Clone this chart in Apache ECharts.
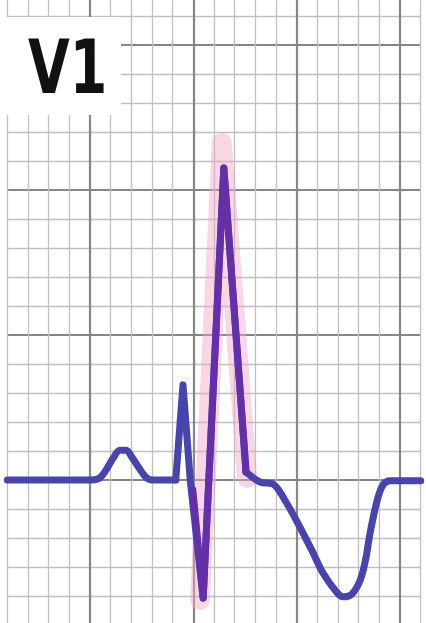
<!DOCTYPE html>
<html>
<head>
<meta charset="utf-8">
<script src="https://cdn.jsdelivr.net/npm/echarts@6/dist/echarts.min.js"></script>
<style>
html,body{margin:0;padding:0;background:#fff;overflow:hidden;}
#chart{position:absolute;left:0;top:-13px;width:426px;height:640px;}
</style>
</head>
<body>
<div id="chart"></div>
<script>
// Lead label
const leadLabel = 'V1';
// ECG trace, time (ms) and amplitude (µV), split in three segments
// baseline + P wave
const pWaveT = [0, 164, 179, 191, 205, 218, 230, 241, 255, 268, 280, 326];
const pWaveV = [0, 0, 7, 34, 76, 103, 103, 79, 41, 10, 0, 0];
// QRS complex (r, S, R')
const qrsT = [326, 340, 354, 379, 419, 462];
const qrsV = [0, 328, 0, -407, 1076, 28];
// ST segment + inverted T wave
const tWaveT = [462, 489, 514, 537, 566, 589, 611, 634, 650, 667, 683, 694, 702, 716, 727, 741, 800];
const tWaveV = [28, -7, -14, -69, -162, -241, -321, -379, -403, -393, -345, -269, -183, -69, -17, -3, -3];
// purple overlay on the S-R' part
const rWaveT = [359, 379, 419, 462];
const rWaveV = [-34, -407, 1076, 28];
// pink halo behind the R' wave
const haloT = [373, 415, 464];
const haloV = [-414, 1162, 7];

const pairs = (a, b) => a.map((x, i) => [x, b[i]]);
const minorC = '#bfbfbf', majorC = '#878787', none = 'rgba(0,0,0,0)';
const traceColor = '#4744aa';

const chart = echarts.init(document.getElementById('chart'), null, {renderer: 'canvas'});
const baseAxis = {
  type: 'value', axisLine: {show: false}, axisTick: {show: false}, axisLabel: {show: false}
};
const traceStyle = {color: traceColor, width: 7, cap: 'round', join: 'round'};
chart.setOption({
  animation: false,
  backgroundColor: '#ffffff',
  grid: {left: 7.3, top: 0, width: 413.4, height: 638, containLabel: false},
  xAxis: [
    Object.assign({}, baseAxis, {min: 0, max: 800, interval: 40, position: 'bottom',
      splitLine: {show: true, lineStyle: {color: [minorC, minorC, minorC, minorC, none], width: 1.3}}}),
    Object.assign({}, baseAxis, {min: 0, max: 800, interval: 40, position: 'top',
      splitLine: {show: true, lineStyle: {color: [none, none, none, none, majorC], width: 2.2}}})
  ],
  yAxis: [
    Object.assign({}, baseAxis, {min: -500, max: 1700, interval: 100, position: 'left',
      splitLine: {show: true, lineStyle: {color: [none, minorC, minorC, minorC, minorC], width: 1.3}}}),
    Object.assign({}, baseAxis, {min: -500, max: 1700, interval: 100, position: 'right',
      splitLine: {show: true, lineStyle: {color: [majorC, none, none, none, none], width: 2.2}}})
  ],
  graphic: [
    {type: 'rect', z: 100, shape: {x: 0, y: 30, width: 121, height: 98}, style: {fill: '#ffffff'}},
    {type: 'text', z: 101, x: 28, y: 87, scaleX: 0.72,
      style: {text: leadLabel, x: 0, y: 0, fill: '#111', font: 'bold 75px "DejaVu Sans"', align: 'left', verticalAlign: 'middle'}}
  ],
  series: [
    {type: 'line', data: pairs(haloT, haloV), symbol: 'none', clip: false, z: 3,
      lineStyle: {color: 'rgba(242,165,200,0.45)', width: 20, cap: 'round', join: 'round'}},
    {type: 'line', data: pairs(pWaveT, pWaveV), symbol: 'none', clip: false, z: 4, smooth: 0.35, lineStyle: traceStyle},
    {type: 'line', data: pairs(qrsT, qrsV), symbol: 'none', clip: false, z: 4, lineStyle: traceStyle},
    {type: 'line', data: pairs(tWaveT, tWaveV), symbol: 'none', clip: false, z: 4, smooth: 0.35, lineStyle: traceStyle},
    {type: 'line', data: pairs(rWaveT, rWaveV), symbol: 'none', clip: false, z: 5,
      lineStyle: {color: '#6330a6', width: 7, cap: 'round', join: 'round'}}
  ]
});
</script>
</body>
</html>
